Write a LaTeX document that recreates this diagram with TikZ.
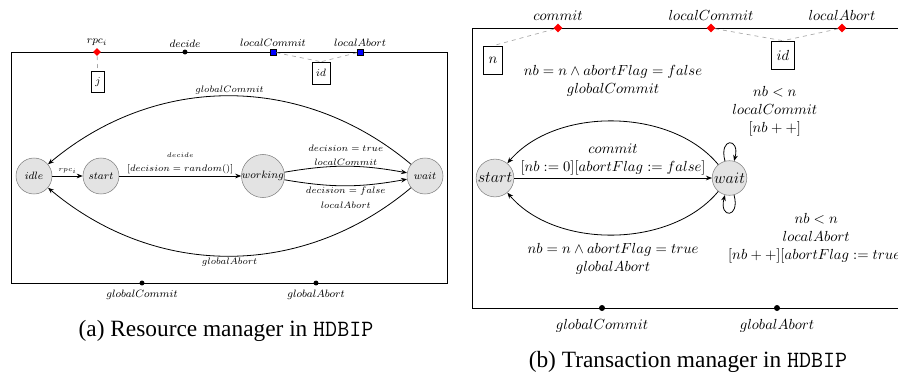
\documentclass[tikz,border=0pt]{standalone}
\usepackage{fontspec}
\setmainfont{Liberation Serif}
\usetikzlibrary{shapes.geometric,arrows.meta}

\begin{document}
\begin{tikzpicture}[x=0.75pt, y=-0.75pt,
    >={Stealth[length=4.5pt,width=3.5pt]},
    fa/.style={font=\fontsize{8.5}{10}\selectfont},
    fal/.style={font=\fontsize{7.5}{11}\selectfont},
    fat/.style={font=\fontsize{5}{6}\selectfont},
    fb/.style={font=\fontsize{11}{13}\selectfont},
    fbl/.style={font=\fontsize{10.5}{13.5}\selectfont},
    stateA/.style={circle, draw=gray, fill=gray!22, inner sep=0pt, minimum size=27pt, fa},
    stateB/.style={circle, draw=gray, fill=gray!22, inner sep=0.6pt, font=\fontsize{11.5}{13}\selectfont},
    redport/.style={diamond, fill=red, inner sep=0pt, minimum size=#1},
    blueport/.style={rectangle, draw, fill=blue, inner sep=0pt, minimum size=4.5pt},
    dotport/.style={circle, fill, inner sep=0pt, minimum size=#1},
    varbox/.style={rectangle, draw, inner xsep=3pt, minimum height=#1},
    link/.style={gray!70, dashed, line width=0.5pt},
    trans/.style={->, line width=0.6pt},
    caption/.style={font=\fontsize{17.5}{20}\selectfont}]
  \useasboundingbox (0,0) rectangle (898,379);

  % (a) resource manager
  \draw[line width=0.65pt] (11,52) rectangle (447,283);
  \node[redport=5.8pt] (rpc) at (97,52) {};
  \node[dotport=3.7pt] (dec) at (185,52) {};
  \node[blueport] (lcA) at (273,52) {};
  \node[blueport] (laA) at (360,52) {};
  \foreach \port/\txt in {rpc/rpc_i, dec/decide, lcA/localCommit, laA/localAbort}
    \node[fa, above, inner sep=1.5pt] (l\port) at (\port.north) {$\txt$};
  \node[varbox=15.5pt, fa] (j) at (98,82) {$j$};
  \node[varbox=16.5pt, fa] (idA) at (321,73) {$id$};
  \draw[link] (rpc) -- (j);
  \draw[link] (lcA) -- (idA.north);
  \draw[link] (laA) -- (idA.north);

  \node[stateA] (idle) at (34,176) {$idle$};
  \node[stateA] (start) at (101,176) {$start$};
  \node[stateA] (working) at (263,176) {$working$};
  \node[stateA] (wait) at (425,176) {$wait$};

  \path[trans] (idle) edge node[fat, above, inner sep=1.5pt] {$rpc_i$} (start);
  \path[trans] (start) edge node[fal, above, inner sep=1.5pt] {$[decision = random()]$}
    node[fat, above, yshift=10pt] {$decide$} (working);
  \path[trans] (working) edge[bend left=10] node[fal, above, align=center, inner sep=0pt] {$decision = true$\\$localCommit$} (wait);
  \path[trans] (working) edge[bend right=10] node[fal, below, align=center, inner sep=1pt] {$decision = false$\\$localAbort$} (wait);
  \path[trans] (wait) edge[bend right=40] node[fal, above, inner sep=1pt] {$globalCommit$} (idle);
  \path[trans] (wait) edge[bend left=40] node[fal, below, inner sep=1.5pt] {$globalAbort$} (idle);

  \node[dotport=3.7pt] (gcA) at (142,283) {};
  \node[dotport=3.7pt] (gaA) at (316,283) {};
  \node[fa, below, inner sep=3pt] (lgcA) at (gcA.south) {$globalCommit$};
  \node[fa, below, inner sep=3pt] (lgaA) at (gaA.south) {$globalAbort$};
  \node[caption] (capA) at (226,331) {(a) Resource manager in \texttt{HDBIP}};

  % (b) transaction manager
  \draw[line width=0.7pt] (472,28) rectangle (912,308);
  \node[redport=6.8pt] (cm) at (558,28) {};
  \node[redport=6.8pt] (lcB) at (711,28) {};
  \node[redport=6.8pt] (laB) at (842,28) {};
  \foreach \port/\txt in {cm/commit, lcB/localCommit, laB/localAbort}
    \node[fb, above, inner sep=2pt] (l\port) at (\port.north) {$\txt$};
  \node[varbox=21pt, fb, inner xsep=4pt] (n) at (493,60) {$n$};
  \node[varbox=21pt, fb, inner xsep=4pt] (idB) at (783,55) {$id$};
  \draw[link] (cm) -- (n.north);
  \draw[link] (lcB) -- (idB.north);
  \draw[link] (laB) -- (idB.north);

  \node[stateB] (startB) at (495,178) {$start$};
  \node[stateB] (waitB) at (729.5,178) {$wait$};

  \path[trans] (startB) edge node[fbl, above, align=center, inner sep=2pt] {$commit$\\$[nb := 0][abortFlag := false]$} (waitB);
  \path[trans] (waitB) edge[bend right=50, looseness=0.9] node[fbl, above, align=center, yshift=15pt] {$nb = n \wedge abortFlag = false$\\$globalCommit$} (startB);
  \path[trans] (waitB) edge[bend left=50, looseness=0.9] node[fbl, below, align=center, yshift=-3pt] {$nb = n \wedge abortFlag = true$\\$globalAbort$} (startB);
  \path[trans] (waitB) edge[loop above, min distance=6.5mm] node[fbl, above, align=center, xshift=34pt, yshift=2pt] {$nb < n$\\$localCommit$\\$[nb++]$} (waitB);
  \path[trans] (waitB) edge[loop below, min distance=6.5mm] node[fbl, below, align=center, xshift=65pt, yshift=3pt] {$nb < n$\\$localAbort$\\$[nb++][abortFlag := true]$} (waitB);

  \node[dotport=4.5pt] (gcB) at (602,308) {};
  \node[dotport=4.5pt] (gaB) at (777,308) {};
  \node[fb, below, inner sep=6pt] (lgcB) at (gcB.south) {$globalCommit$};
  \node[fb, below, inner sep=6pt] (lgaB) at (gaB.south) {$globalAbort$};
  \node[caption] (capB) at (688,362) {(b) Transaction manager in \texttt{HDBIP}};
\end{tikzpicture}
\end{document}
